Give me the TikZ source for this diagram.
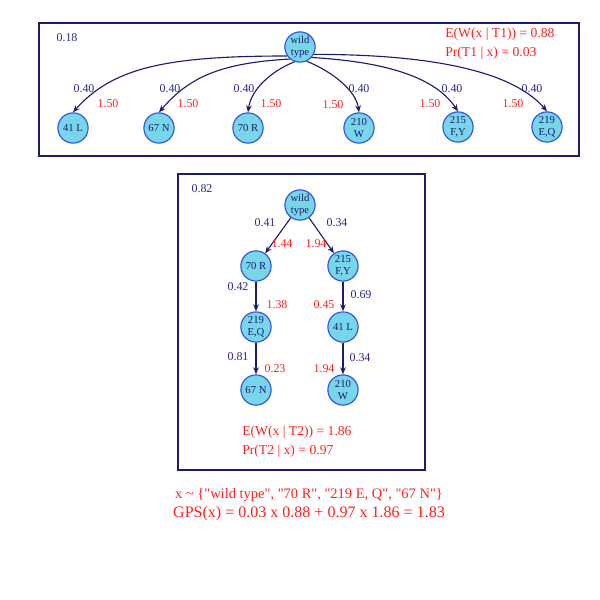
\documentclass[tikz,border=0pt]{standalone}
\usepackage{fontspec}
\setmainfont{Liberation Serif}[Ligatures=TeXOff]
\usetikzlibrary{arrows.meta}
\definecolor{navy}{HTML}{1C1C6E}
\definecolor{nfill}{HTML}{78D6EA}
\definecolor{nborder}{HTML}{2F4FE0}
\definecolor{lblue}{HTML}{2A2A8A}
\definecolor{lred}{HTML}{FF2020}
\tikzset{
  mut/.style={circle,draw=nborder,fill=nfill,line width=0.8pt,minimum size=21.5pt,inner sep=0pt,font=\fontsize{7.6}{8.6}\selectfont,text=navy,align=center},
  frame/.style={draw=navy,line width=1pt},
  edge/.style={draw=navy,line width=0.8pt,-{Stealth[length=5pt,width=4pt]}},
  bl/.style={text=lblue,font=\fontsize{8.5}{10}\selectfont,inner sep=0pt},
  rl/.style={text=lred,font=\fontsize{8.5}{10}\selectfont,inner sep=0pt},
  big/.style={text=lred,font=\fontsize{9.7}{11.5}\selectfont,inner sep=0pt,anchor=west},
}
\begin{document}
\begin{tikzpicture}[x=0.025cm,y=-0.025cm]
\useasboundingbox (0,0) rectangle (600,600);
% top box
\draw[frame] (39,23) rectangle (579,156);
\node[bl] (p1) at (67,38) {0.18};
\node[big] (e1) at (445,34) {E(W(x | T1)) = 0.88};
\node[big] (q1) at (445,53) {Pr(T1 | x) = 0.03};
\node[mut] (w1) at (300,47) {wild\\type};
\node[mut] (a1) at (73,128) {41 L};
\node[mut] (a2) at (159,128) {67 N};
\node[mut] (a3) at (248,128) {70 R};
\node[mut] (a4) at (359,128) {210\\W};
\node[mut] (a5) at (458,127) {215\\F,Y};
\node[mut] (a6) at (547,127) {219\\E,Q};
\draw[edge] (w1.215) .. controls +(-120,0) and +(40,-45) .. (a1.north);
\draw[edge] (w1.230) .. controls +(-70,4) and +(30,-35) .. (a2.north);
\draw[edge] (w1.250) .. controls +(-25,10) and +(3,-22) .. (a3.north);
\draw[edge] (w1.295) .. controls +(25,10) and +(-3,-22) .. (a4.north);
\draw[edge] (w1.318) .. controls +(85,5) and +(-20,-30) .. (a5.north);
\draw[edge] (w1.332) .. controls +(135,0) and +(-30,-35) .. (a6.north);
\node[bl] (b1) at (84,89) {0.40};   \node[rl] (r1) at (108,104) {1.50};
\node[bl] (b2) at (170,89) {0.40};  \node[rl] (r2) at (188,104) {1.50};
\node[bl] (b3) at (244,89) {0.40};  \node[rl] (r3) at (271,104) {1.50};
\node[bl] (b4) at (359,89) {0.40};  \node[rl] (r4) at (333,105) {1.50};
\node[bl] (b5) at (452,89) {0.40};  \node[rl] (r5) at (430,104) {1.50};
\node[bl] (b6) at (532,89) {0.40};  \node[rl] (r6) at (513,104) {1.50};
% second box
\draw[frame] (178,174) rectangle (425,470);
\node[bl] (p2) at (202,189) {0.82};
\node[mut] (w2) at (300,205) {wild\\type};
\node[mut] (c1) at (256,266) {70 R};
\node[mut] (c2) at (256,327) {219\\E,Q};
\node[mut] (c3) at (256,390) {67 N};
\node[mut] (d1) at (343,266) {215\\F,Y};
\node[mut] (d2) at (343,327) {41 L};
\node[mut] (d3) at (343,390) {210\\W};
\draw[edge] (w2) -- (c1);
\draw[edge] (w2) -- (d1);
\draw[edge] (c1) -- (c2);
\draw[edge] (c2) -- (c3);
\draw[edge] (d1) -- (d2);
\draw[edge] (d2) -- (d3);
\node[bl] (f1) at (265,223) {0.41}; \node[rl] (g1) at (282,244) {1.44};
\node[bl] (f2) at (337,223) {0.34}; \node[rl] (g2) at (316,244) {1.94};
\node[bl] (f3) at (238,287) {0.42}; \node[rl] (g3) at (277,305) {1.38};
\node[bl] (f4) at (361,295) {0.69}; \node[rl] (g4) at (324,305) {0.45};
\node[bl] (f5) at (238,357) {0.81}; \node[rl] (g5) at (275,369) {0.23};
\node[bl] (f6) at (360,358) {0.34}; \node[rl] (g6) at (324,369) {1.94};
\node[big] (e2) at (242,432) {E(W(x | T2)) = 1.86};
\node[big] (q2) at (242,451) {Pr(T2 | x) = 0.97};
% bottom
\node[text=lred,font=\fontsize{10.3}{12}\selectfont,inner sep=0pt] (x1) at (309,495) {x \textasciitilde{} \{"wild type", "70 R", "219 E, Q", "67 N"\}};
\node[text=lred,font=\fontsize{11.4}{13}\selectfont,inner sep=0pt] (x2) at (309,514) {GPS(x) = 0.03 x 0.88 + 0.97 x 1.86 = 1.83};
\end{tikzpicture}
\end{document}
